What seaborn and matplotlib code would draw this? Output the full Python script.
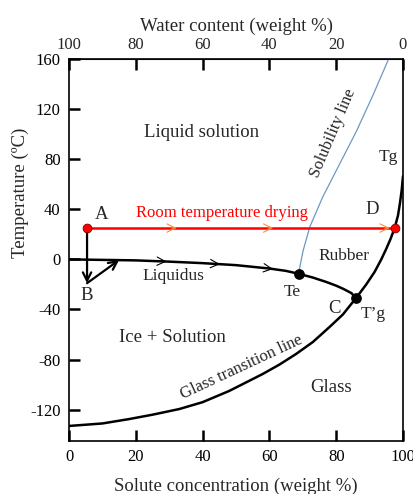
import numpy as np
import pandas as pd
import seaborn as sns
import matplotlib
matplotlib.use("Agg")
import matplotlib.pyplot as plt

# curves (solute %, temperature C)
liq_x = [0, 10, 20, 30, 40, 50, 60, 65, 68.8, 73, 77, 80, 82.1, 84.6, 85.9]
liq_y = [0, -0.4, -0.8, -1.8, -3, -4.6, -7.3, -9.2, -11.5, -14.5, -18, -21, -23.5, -27, -31]

glass_x = [0, 10, 18, 25, 33, 40, 48, 58, 63, 68, 73, 78, 82, 85.9,
           89, 91.5, 93.5, 95, 96.3, 97.5, 98.5, 99.1, 99.6, 100]
glass_y = [-133, -131, -127.5, -124, -119.5, -114, -105, -91.5, -84, -75.5, -66, -54, -44, -31,
           -20, -10, 0, 8.5, 16.5, 25, 35, 45, 55, 66.4]

sol_x = [68.7, 70.1, 72.1, 76, 81, 86, 91, 95.7]
sol_y = [-11.5, 7, 26, 50, 76, 102, 131, 160]

# points
pt_a = (5.4, 25)
pt_b = (5.4, -19)
pt_d = (97.5, 25)
pt_te = (68.8, -11.5)
pt_tpg = (85.9, -31)
b_end = (15, -0.5)

red_arrow_x = [32.2, 61.1, 96.0]
liq_arrow_x = [29.2, 45.2, 61.1]

sns.set_style("ticks")
plt.rcParams["font.family"] = ["Liberation Serif", "DejaVu Serif"]

fig = plt.figure(figsize=(4.14, 4.94), dpi=100)
ax = fig.add_axes([0.1667, 0.1073, 0.8067, 0.7733])

liq = pd.DataFrame({"x": liq_x, "y": liq_y})
gl = pd.DataFrame({"x": glass_x, "y": glass_y})
sol = pd.DataFrame({"x": sol_x, "y": sol_y})

sns.lineplot(data=sol, x="x", y="y", sort=False, color="#6f98c0", lw=0.9, ax=ax)
sns.lineplot(data=liq, x="x", y="y", sort=False, color="black", lw=1.8, ax=ax)
sns.lineplot(data=gl, x="x", y="y", sort=False, color="black", lw=1.8, ax=ax)

head = "->,head_length=0.6,head_width=0.3"

# room temperature drying line
ax.plot([pt_a[0], pt_d[0]], [pt_a[1], pt_d[1]], color="red", lw=1.8, zorder=3)
for xa in red_arrow_x:
    ax.annotate("", xy=(xa, 25), xytext=(xa - 1.5, 25),
                arrowprops=dict(arrowstyle=head, color="#ff8a3c", lw=0.8,
                                shrinkA=0, shrinkB=0, mutation_scale=10), zorder=4)

# liquidus arrows
for xa in liq_arrow_x:
    ya = np.interp(xa, liq_x, liq_y)
    yb = np.interp(xa - 1.5, liq_x, liq_y)
    ax.annotate("", xy=(xa, ya), xytext=(xa - 1.5, yb),
                arrowprops=dict(arrowstyle=head, color="black", lw=0.8,
                                shrinkA=0, shrinkB=0, mutation_scale=10), zorder=4)

# A -> B -> liquidus
for start, end in [(pt_a, pt_b), (pt_b, b_end)]:
    ax.annotate("", xy=end, xytext=start,
                arrowprops=dict(arrowstyle=head, color="black", lw=1.6,
                                shrinkA=0, shrinkB=0, mutation_scale=10), zorder=3)

ax.scatter([pt_a[0], pt_d[0]], [pt_a[1], pt_d[1]], s=40, color="red",
           edgecolor="#7a0000", lw=0.6, zorder=5)
ax.scatter([pt_te[0], pt_tpg[0]], [pt_te[1], pt_tpg[1]], s=45, color="black", zorder=5)

big = 13.5
mid = 12.5
ax.text(39.7, 101, "Liquid solution", fontsize=big, ha="center", va="center")
ax.text(79, 101, "Solubility line", fontsize=12, ha="center", va="center", rotation=67)
ax.text(95.5, 82, "Tg", fontsize=mid, ha="center", va="center")
ax.text(9.8, 36, "A", fontsize=big, ha="center", va="center")
ax.text(45.7, 37, "Room temperature drying", fontsize=12, color="red", ha="center", va="center")
ax.text(90.7, 40, "D", fontsize=big, ha="center", va="center")
ax.text(82.4, 3, "Rubber", fontsize=mid, ha="center", va="center")
ax.text(31.4, -13, "Liquidus", fontsize=mid, ha="center", va="center")
ax.text(5.3, -29, "B", fontsize=big, ha="center", va="center")
ax.text(66.9, -26, "Te", fontsize=mid, ha="center", va="center")
ax.text(79.4, -39, "C", fontsize=big, ha="center", va="center")
ax.text(91, -43.5, "T\u2019g", fontsize=mid, ha="center", va="center")
ax.text(31, -62, "Ice + Solution", fontsize=big, ha="center", va="center")
ax.text(51.7, -86, "Glass transition line", fontsize=12, ha="center", va="center", rotation=25)
ax.text(78.6, -102, "Glass", fontsize=big, ha="center", va="center")

ax.set_xlim(0, 100)
ax.set_ylim(-145, 160)
ax.set_xticks([0, 20, 40, 60, 80, 100])
ax.set_yticks([-120, -80, -40, 0, 40, 80, 120, 160])
ax.set_yticklabels(["-120", "-80", "-40", "0", "40", "80", "120", "160"])
ax.tick_params(axis="both", direction="in", length=8, width=1.8, labelsize=12,
               colors="black", pad=6)
ax.tick_params(axis="x", top=True, labeltop=False)
ax.set_xlabel("Solute concentration (weight %)", fontsize=13.5)
ax.set_ylabel("Temperature (\u00baC)", fontsize=13.5)
ax.xaxis.set_label_coords(0.498, -0.097)
ax.yaxis.set_label_coords(-0.12, 0.649)
for s in ax.spines.values():
    s.set_linewidth(1.2)
    s.set_color("black")

top = ax.secondary_xaxis("top", functions=(lambda v: 100 - v, lambda v: 100 - v))
top.set_xticks([100, 80, 60, 40, 20, 0])
top.tick_params(direction="in", length=0, labelsize=12, pad=4)
top.set_xlabel("Water content (weight %)", fontsize=13.5, labelpad=5)

fig.savefig("out.png", dpi=100)
